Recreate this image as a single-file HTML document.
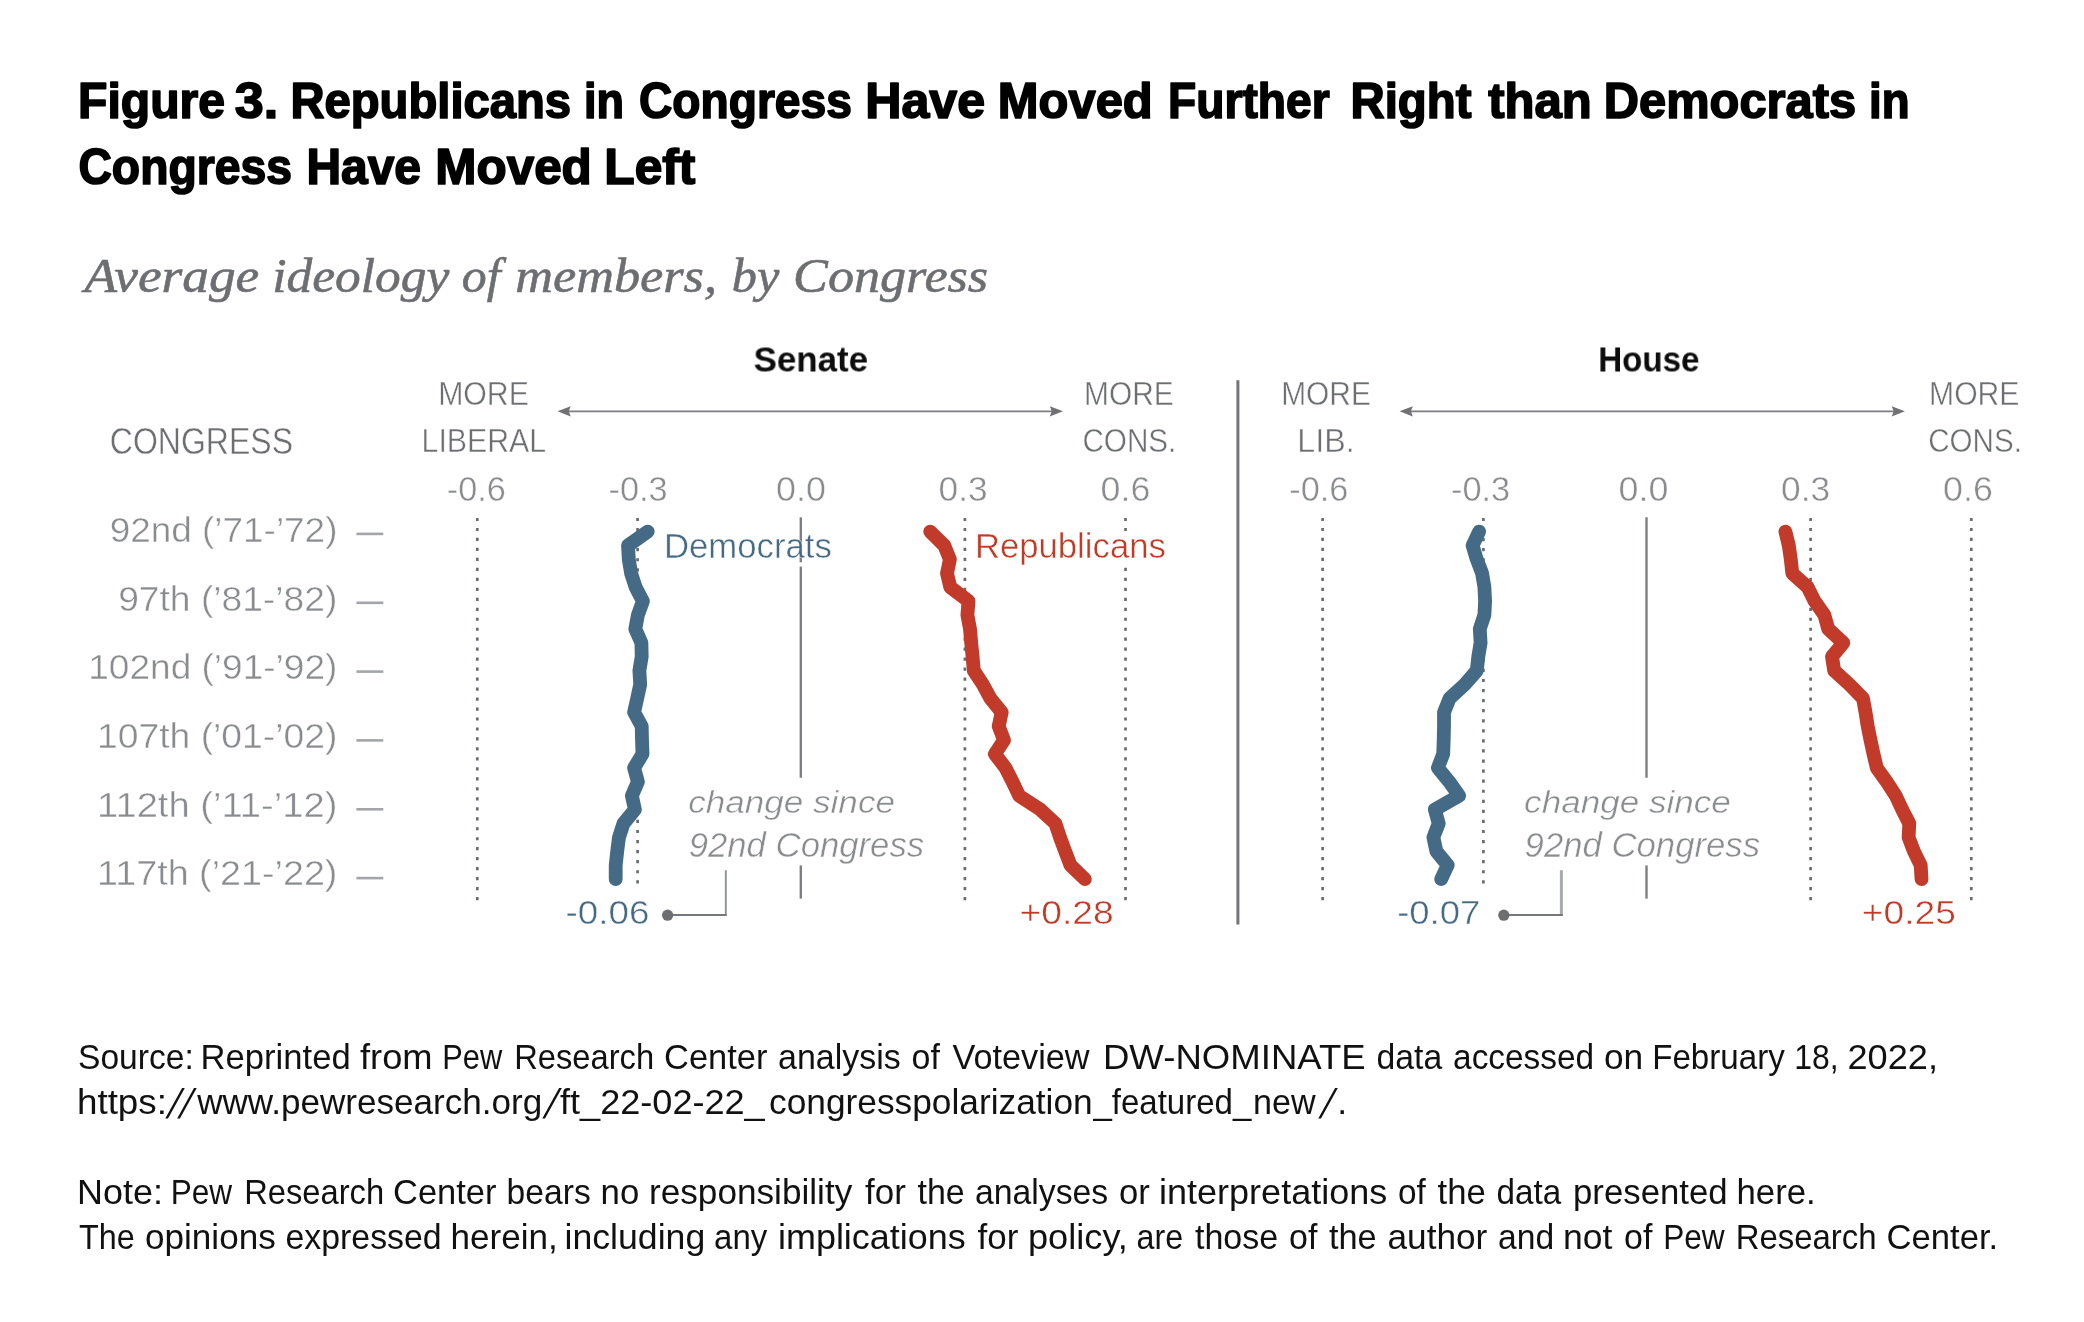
<!DOCTYPE html>
<html lang="en"><head><meta charset="utf-8"><title>Figure 3</title>
<style>html,body{margin:0;padding:0;background:#fff}body{width:2084px;height:1322px;overflow:hidden;font-family:"Liberation Sans",sans-serif}svg{display:block;will-change:transform;transform:translateZ(0)}text{white-space:pre}</style></head><body>
<svg width="2084" height="1322" viewBox="0 0 2084 1322">
<rect width="2084" height="1322" fill="#fff"/>
<defs><filter id="soft" x="0" y="0" width="2084" height="1322" filterUnits="userSpaceOnUse"><feGaussianBlur stdDeviation="0.65"/></filter></defs>
<text transform="translate(78.10 118.25) scale(0.9595 1)" font-family='"Liberation Sans", sans-serif' font-size="50.14" fill="#000" font-weight="bold" stroke="#000" stroke-width="1.7" stroke-linejoin="round">Figure</text>
<text transform="translate(234.74 118.25) scale(1.0412 1)" font-family='"Liberation Sans", sans-serif' font-size="50.14" fill="#000" font-weight="bold" stroke="#000" stroke-width="1.7" stroke-linejoin="round">3.</text>
<text transform="translate(290.46 118.25) scale(0.9413 1)" font-family='"Liberation Sans", sans-serif' font-size="50.14" fill="#000" font-weight="bold" stroke="#000" stroke-width="1.7" stroke-linejoin="round">Republicans</text>
<text transform="translate(584.09 118.25) scale(0.8975 1)" font-family='"Liberation Sans", sans-serif' font-size="50.14" fill="#000" font-weight="bold" stroke="#000" stroke-width="1.7" stroke-linejoin="round">in</text>
<text transform="translate(638.94 118.25) scale(0.9213 1)" font-family='"Liberation Sans", sans-serif' font-size="50.14" fill="#000" font-weight="bold" stroke="#000" stroke-width="1.7" stroke-linejoin="round">Congress</text>
<text transform="translate(865.28 118.25) scale(0.9999 1)" font-family='"Liberation Sans", sans-serif' font-size="50.14" fill="#000" font-weight="bold" stroke="#000" stroke-width="1.7" stroke-linejoin="round">Have</text>
<text transform="translate(997.85 118.25) scale(0.9759 1)" font-family='"Liberation Sans", sans-serif' font-size="50.14" fill="#000" font-weight="bold" stroke="#000" stroke-width="1.7" stroke-linejoin="round">Moved</text>
<text transform="translate(1168.02 118.25) scale(0.9215 1)" font-family='"Liberation Sans", sans-serif' font-size="50.14" fill="#000" font-weight="bold" stroke="#000" stroke-width="1.7" stroke-linejoin="round">Further</text>
<text transform="translate(1350.45 118.25) scale(0.9448 1)" font-family='"Liberation Sans", sans-serif' font-size="50.14" fill="#000" font-weight="bold" stroke="#000" stroke-width="1.7" stroke-linejoin="round">Right</text>
<text transform="translate(1488.28 118.25) scale(0.9782 1)" font-family='"Liberation Sans", sans-serif' font-size="50.14" fill="#000" font-weight="bold" stroke="#000" stroke-width="1.7" stroke-linejoin="round">than</text>
<text transform="translate(1603.86 118.25) scale(0.9733 1)" font-family='"Liberation Sans", sans-serif' font-size="50.14" fill="#000" font-weight="bold" stroke="#000" stroke-width="1.7" stroke-linejoin="round">Democrats</text>
<text transform="translate(1869.05 118.25) scale(0.9103 1)" font-family='"Liberation Sans", sans-serif' font-size="50.14" fill="#000" font-weight="bold" stroke="#000" stroke-width="1.7" stroke-linejoin="round">in</text>
<text transform="translate(78.43 183.95) scale(0.9235 1)" font-family='"Liberation Sans", sans-serif' font-size="50.14" fill="#000" font-weight="bold" stroke="#000" stroke-width="1.7" stroke-linejoin="round">Congress</text>
<text transform="translate(306.41 183.95) scale(0.9567 1)" font-family='"Liberation Sans", sans-serif' font-size="50.14" fill="#000" font-weight="bold" stroke="#000" stroke-width="1.7" stroke-linejoin="round">Have</text>
<text transform="translate(435.32 183.95) scale(0.9857 1)" font-family='"Liberation Sans", sans-serif' font-size="50.14" fill="#000" font-weight="bold" stroke="#000" stroke-width="1.7" stroke-linejoin="round">Moved</text>
<text transform="translate(604.31 183.95) scale(0.9916 1)" font-family='"Liberation Sans", sans-serif' font-size="50.14" fill="#000" font-weight="bold" stroke="#000" stroke-width="1.7" stroke-linejoin="round">Left</text>
<text transform="translate(78.05 1068.70) scale(0.9453 1)" font-family='"Liberation Sans", sans-serif' font-size="35.51" fill="#111">Source:</text>
<text transform="translate(200.55 1068.70) scale(0.9755 1)" font-family='"Liberation Sans", sans-serif' font-size="35.51" fill="#111">Reprinted</text>
<text transform="translate(360.00 1068.70) scale(1.0226 1)" font-family='"Liberation Sans", sans-serif' font-size="35.51" fill="#111">from</text>
<text transform="translate(442.26 1068.70) scale(0.8677 1)" font-family='"Liberation Sans", sans-serif' font-size="35.51" fill="#111">Pew</text>
<text transform="translate(514.16 1068.70) scale(0.9211 1)" font-family='"Liberation Sans", sans-serif' font-size="35.51" fill="#111">Research</text>
<text transform="translate(664.03 1068.70) scale(0.9694 1)" font-family='"Liberation Sans", sans-serif' font-size="35.51" fill="#111">Center</text>
<text transform="translate(778.04 1068.70) scale(0.9565 1)" font-family='"Liberation Sans", sans-serif' font-size="35.51" fill="#111">analysis</text>
<text transform="translate(911.54 1068.70) scale(0.9567 1)" font-family='"Liberation Sans", sans-serif' font-size="35.51" fill="#111">of</text>
<text transform="translate(952.50 1068.70) scale(0.9653 1)" font-family='"Liberation Sans", sans-serif' font-size="35.51" fill="#111">Voteview</text>
<text transform="translate(1102.94 1068.70) scale(1.0302 1)" font-family='"Liberation Sans", sans-serif' font-size="35.51" fill="#111">DW-NOMINATE</text>
<text transform="translate(1376.55 1068.70) scale(0.9510 1)" font-family='"Liberation Sans", sans-serif' font-size="35.51" fill="#111">data</text>
<text transform="translate(1453.06 1068.70) scale(0.9407 1)" font-family='"Liberation Sans", sans-serif' font-size="35.51" fill="#111">accessed</text>
<text transform="translate(1604.01 1068.70) scale(0.9934 1)" font-family='"Liberation Sans", sans-serif' font-size="35.51" fill="#111">on</text>
<text transform="translate(1652.13 1068.70) scale(0.9337 1)" font-family='"Liberation Sans", sans-serif' font-size="35.51" fill="#111">February</text>
<text transform="translate(1794.20 1068.70) scale(0.8991 1)" font-family='"Liberation Sans", sans-serif' font-size="35.51" fill="#111">18,</text>
<text transform="translate(1847.48 1068.70) scale(1.0180 1)" font-family='"Liberation Sans", sans-serif' font-size="35.51" fill="#111">2022,</text>
<text transform="translate(76.93 1113.90) scale(1.0371 1)" font-family='"Liberation Sans", sans-serif' font-size="35.51" fill="#111">https:</text>
<text transform="translate(197.19 1113.90) scale(0.9880 1)" font-family='"Liberation Sans", sans-serif' font-size="35.51" fill="#111">www.pewresearch.org</text>
<text transform="translate(560.00 1113.90) scale(1.0169 1)" font-family='"Liberation Sans", sans-serif' font-size="35.51" fill="#111">ft_22-02-22_</text>
<text transform="translate(769.01 1113.90) scale(0.9942 1)" font-family='"Liberation Sans", sans-serif' font-size="35.51" fill="#111">congresspolarization</text>
<text transform="translate(1093.43 1113.90) scale(0.9302 1)" font-family='"Liberation Sans", sans-serif' font-size="35.51" fill="#111">_featured_</text>
<text transform="translate(1253.08 1113.90) scale(0.9608 1)" font-family='"Liberation Sans", sans-serif' font-size="35.51" fill="#111">new</text>
<text transform="translate(1337.30 1113.90) scale(1.0000 1)" font-family='"Liberation Sans", sans-serif' font-size="35.51" fill="#111">.</text>
<text transform="translate(76.97 1204.10) scale(1.0127 1)" font-family='"Liberation Sans", sans-serif' font-size="35.51" fill="#111">Note:</text>
<text transform="translate(170.72 1204.10) scale(0.8899 1)" font-family='"Liberation Sans", sans-serif' font-size="35.51" fill="#111">Pew</text>
<text transform="translate(244.16 1204.10) scale(0.9211 1)" font-family='"Liberation Sans", sans-serif' font-size="35.51" fill="#111">Research</text>
<text transform="translate(393.03 1204.10) scale(0.9694 1)" font-family='"Liberation Sans", sans-serif' font-size="35.51" fill="#111">Center</text>
<text transform="translate(506.61 1204.10) scale(0.9471 1)" font-family='"Liberation Sans", sans-serif' font-size="35.51" fill="#111">bears</text>
<text transform="translate(600.54 1204.10) scale(0.9798 1)" font-family='"Liberation Sans", sans-serif' font-size="35.51" fill="#111">no</text>
<text transform="translate(649.02 1204.10) scale(0.9904 1)" font-family='"Liberation Sans", sans-serif' font-size="35.51" fill="#111">responsibility</text>
<text transform="translate(865.00 1204.10) scale(0.9854 1)" font-family='"Liberation Sans", sans-serif' font-size="35.51" fill="#111">for</text>
<text transform="translate(917.50 1204.10) scale(0.9567 1)" font-family='"Liberation Sans", sans-serif' font-size="35.51" fill="#111">the</text>
<text transform="translate(975.05 1204.10) scale(0.9504 1)" font-family='"Liberation Sans", sans-serif' font-size="35.51" fill="#111">analyses</text>
<text transform="translate(1119.02 1204.10) scale(0.9758 1)" font-family='"Liberation Sans", sans-serif' font-size="35.51" fill="#111">or</text>
<text transform="translate(1158.97 1204.10) scale(1.0148 1)" font-family='"Liberation Sans", sans-serif' font-size="35.51" fill="#111">interpretations</text>
<text transform="translate(1398.06 1204.10) scale(0.9393 1)" font-family='"Liberation Sans", sans-serif' font-size="35.51" fill="#111">of</text>
<text transform="translate(1437.50 1204.10) scale(0.9772 1)" font-family='"Liberation Sans", sans-serif' font-size="35.51" fill="#111">the</text>
<text transform="translate(1496.56 1204.10) scale(0.9364 1)" font-family='"Liberation Sans", sans-serif' font-size="35.51" fill="#111">data</text>
<text transform="translate(1573.04 1204.10) scale(0.9796 1)" font-family='"Liberation Sans", sans-serif' font-size="35.51" fill="#111">presented</text>
<text transform="translate(1736.54 1204.10) scale(0.9796 1)" font-family='"Liberation Sans", sans-serif' font-size="35.51" fill="#111">here.</text>
<text transform="translate(79.00 1249.20) scale(0.9102 1)" font-family='"Liberation Sans", sans-serif' font-size="35.51" fill="#111">The</text>
<text transform="translate(145.01 1249.20) scale(0.9886 1)" font-family='"Liberation Sans", sans-serif' font-size="35.51" fill="#111">opinions</text>
<text transform="translate(285.55 1249.20) scale(0.9531 1)" font-family='"Liberation Sans", sans-serif' font-size="35.51" fill="#111">expressed</text>
<text transform="translate(450.52 1249.20) scale(0.9886 1)" font-family='"Liberation Sans", sans-serif' font-size="35.51" fill="#111">herein,</text>
<text transform="translate(564.49 1249.20) scale(1.0045 1)" font-family='"Liberation Sans", sans-serif' font-size="35.51" fill="#111">including</text>
<text transform="translate(714.07 1249.20) scale(0.9294 1)" font-family='"Liberation Sans", sans-serif' font-size="35.51" fill="#111">any</text>
<text transform="translate(777.97 1249.20) scale(1.0126 1)" font-family='"Liberation Sans", sans-serif' font-size="35.51" fill="#111">implications</text>
<text transform="translate(977.50 1249.20) scale(0.9854 1)" font-family='"Liberation Sans", sans-serif' font-size="35.51" fill="#111">for</text>
<text transform="translate(1027.96 1249.20) scale(1.0201 1)" font-family='"Liberation Sans", sans-serif' font-size="35.51" fill="#111">policy,</text>
<text transform="translate(1136.59 1249.20) scale(0.9079 1)" font-family='"Liberation Sans", sans-serif' font-size="35.51" fill="#111">are</text>
<text transform="translate(1195.00 1249.20) scale(0.9582 1)" font-family='"Liberation Sans", sans-serif' font-size="35.51" fill="#111">those</text>
<text transform="translate(1289.04 1249.20) scale(0.9567 1)" font-family='"Liberation Sans", sans-serif' font-size="35.51" fill="#111">of</text>
<text transform="translate(1329.00 1249.20) scale(0.9669 1)" font-family='"Liberation Sans", sans-serif' font-size="35.51" fill="#111">the</text>
<text transform="translate(1387.51 1249.20) scale(0.9916 1)" font-family='"Liberation Sans", sans-serif' font-size="35.51" fill="#111">author</text>
<text transform="translate(1498.05 1249.20) scale(0.9471 1)" font-family='"Liberation Sans", sans-serif' font-size="35.51" fill="#111">and</text>
<text transform="translate(1563.00 1249.20) scale(1.0003 1)" font-family='"Liberation Sans", sans-serif' font-size="35.51" fill="#111">not</text>
<text transform="translate(1624.04 1249.20) scale(0.9567 1)" font-family='"Liberation Sans", sans-serif' font-size="35.51" fill="#111">of</text>
<text transform="translate(1663.22 1249.20) scale(0.8899 1)" font-family='"Liberation Sans", sans-serif' font-size="35.51" fill="#111">Pew</text>
<text transform="translate(1735.64 1249.20) scale(0.9279 1)" font-family='"Liberation Sans", sans-serif' font-size="35.51" fill="#111">Research</text>
<text transform="translate(1886.52 1249.20) scale(0.9756 1)" font-family='"Liberation Sans", sans-serif' font-size="35.51" fill="#111">Center.</text>
<path d="M165.3 1118.6 h2.7 L184.8 1088.0 h-2.7 Z" fill="#111"/>
<path d="M177.2 1118.6 h2.7 L196.7 1088.0 h-2.7 Z" fill="#111"/>
<path d="M542.3 1118.6 h2.7 L561.8 1088.0 h-2.7 Z" fill="#111"/>
<path d="M1318.3 1118.6 h2.7 L1337.8 1088.0 h-2.7 Z" fill="#111"/>
<g filter="url(#soft)">
<line x1="477.3" y1="517.9" x2="477.3" y2="901" stroke="#696c71" stroke-width="2.7" stroke-dasharray="3.2 6.776"/>
<line x1="964.9" y1="517.9" x2="964.9" y2="901" stroke="#696c71" stroke-width="2.7" stroke-dasharray="3.2 6.776"/>
<line x1="1125.5" y1="517.9" x2="1125.5" y2="901" stroke="#696c71" stroke-width="2.7" stroke-dasharray="3.2 6.776"/>
<line x1="1322.6" y1="517.9" x2="1322.6" y2="901" stroke="#696c71" stroke-width="2.7" stroke-dasharray="3.2 6.776"/>
<line x1="1810.6" y1="517.9" x2="1810.6" y2="901" stroke="#696c71" stroke-width="2.7" stroke-dasharray="3.2 6.776"/>
<line x1="1971.3" y1="517.9" x2="1971.3" y2="901" stroke="#696c71" stroke-width="2.7" stroke-dasharray="3.2 6.776"/>
<line x1="637.6" y1="517.9" x2="637.6" y2="884.5" stroke="#696c71" stroke-width="2.7" stroke-dasharray="3.2 6.864"/>
<line x1="1483.4" y1="517.9" x2="1483.4" y2="884.5" stroke="#696c71" stroke-width="2.7" stroke-dasharray="3.2 6.864"/>
<line x1="800.8" y1="517.3" x2="800.8" y2="562.2" stroke="#7d7f83" stroke-width="2.4"/>
<line x1="800.8" y1="566.6" x2="800.8" y2="777.7" stroke="#7d7f83" stroke-width="2.4"/>
<line x1="800.8" y1="865.4" x2="800.8" y2="898.6" stroke="#7d7f83" stroke-width="2.4"/>
<line x1="1646.5" y1="517.3" x2="1646.5" y2="777.7" stroke="#7d7f83" stroke-width="2.4"/>
<line x1="1646.5" y1="865.4" x2="1646.5" y2="898.6" stroke="#7d7f83" stroke-width="2.4"/>
<line x1="1237.9" y1="380.3" x2="1237.9" y2="924.5" stroke="#737478" stroke-width="3"/>
<line x1="566.5" y1="411.45" x2="1054.0" y2="411.45" stroke="#7c7e82" stroke-width="1.7"/>
<path d="M557.5 411.3 L570.7 406.2 L568.7 411.3 L570.7 416.40000000000003 Z" fill="#6f7075"/>
<path d="M1063.0 411.3 L1049.8 406.2 L1051.8 411.3 L1049.8 416.40000000000003 Z" fill="#6f7075"/>
<line x1="1408.6" y1="411.45" x2="1895.9" y2="411.45" stroke="#7c7e82" stroke-width="1.7"/>
<path d="M1399.6 411.3 L1412.8 406.2 L1410.8 411.3 L1412.8 416.40000000000003 Z" fill="#6f7075"/>
<path d="M1904.9 411.3 L1891.7 406.2 L1893.7 411.3 L1891.7 416.40000000000003 Z" fill="#6f7075"/>
<line x1="356.4" y1="533.9" x2="383.3" y2="533.9" stroke="#a3a5a8" stroke-width="2.6"/>
<line x1="356.4" y1="602.8" x2="383.3" y2="602.8" stroke="#a3a5a8" stroke-width="2.6"/>
<line x1="356.4" y1="671.6" x2="383.3" y2="671.6" stroke="#a3a5a8" stroke-width="2.6"/>
<line x1="356.4" y1="740.4" x2="383.3" y2="740.4" stroke="#a3a5a8" stroke-width="2.6"/>
<line x1="356.4" y1="809.3" x2="383.3" y2="809.3" stroke="#a3a5a8" stroke-width="2.6"/>
<line x1="356.4" y1="878.1" x2="383.3" y2="878.1" stroke="#a3a5a8" stroke-width="2.6"/>
<text transform="translate(84.58 292.40) scale(1.1002 1)" font-family='"Liberation Serif", serif' font-size="48.48" fill="#6d6e72" font-style="italic" stroke="#6d6e72" stroke-width="0.6" stroke-linejoin="round">Average</text>
<text transform="translate(272.15 292.40) scale(1.0609 1)" font-family='"Liberation Serif", serif' font-size="48.48" fill="#6d6e72" font-style="italic" stroke="#6d6e72" stroke-width="0.6" stroke-linejoin="round">ideology</text>
<text transform="translate(461.75 292.40) scale(1.0281 1)" font-family='"Liberation Serif", serif' font-size="48.48" fill="#6d6e72" font-style="italic" stroke="#6d6e72" stroke-width="0.6" stroke-linejoin="round">of</text>
<text transform="translate(515.20 292.40) scale(1.0786 1)" font-family='"Liberation Serif", serif' font-size="48.48" fill="#6d6e72" font-style="italic" stroke="#6d6e72" stroke-width="0.6" stroke-linejoin="round">members,</text>
<text transform="translate(731.74 292.40) scale(1.0379 1)" font-family='"Liberation Serif", serif' font-size="48.48" fill="#6d6e72" font-style="italic" stroke="#6d6e72" stroke-width="0.6" stroke-linejoin="round">by</text>
<text transform="translate(793.12 292.40) scale(1.0755 1)" font-family='"Liberation Serif", serif' font-size="48.48" fill="#6d6e72" font-style="italic" stroke="#6d6e72" stroke-width="0.6" stroke-linejoin="round">Congress</text>
<text transform="translate(109.81 453.80) scale(0.8869 1)" font-family='"Liberation Sans", sans-serif' font-size="36.09" fill="#6d6e71" stroke="#fff" stroke-width="0.45">CONGRESS</text>
<text transform="translate(438.13 405.40) scale(0.9359 1)" font-family='"Liberation Sans", sans-serif' font-size="32.32" fill="#6d6e71" stroke="#fff" stroke-width="0.45">MORE</text>
<text transform="translate(421.52 452.00) scale(0.9378 1)" font-family='"Liberation Sans", sans-serif' font-size="32.32" fill="#6d6e71" stroke="#fff" stroke-width="0.45">LIBERAL</text>
<text transform="translate(1083.95 405.40) scale(0.9263 1)" font-family='"Liberation Sans", sans-serif' font-size="32.32" fill="#6d6e71" stroke="#fff" stroke-width="0.45">MORE</text>
<text transform="translate(1082.38 452.00) scale(0.9183 1)" font-family='"Liberation Sans", sans-serif' font-size="32.32" fill="#6d6e71" stroke="#fff" stroke-width="0.45">CONS.</text>
<text transform="translate(1281.15 405.40) scale(0.9253 1)" font-family='"Liberation Sans", sans-serif' font-size="32.32" fill="#6d6e71" stroke="#fff" stroke-width="0.45">MORE</text>
<text transform="translate(1297.31 452.00) scale(0.9967 1)" font-family='"Liberation Sans", sans-serif' font-size="32.32" fill="#6d6e71" stroke="#fff" stroke-width="0.45">LIB.</text>
<text transform="translate(1929.03 405.40) scale(0.9327 1)" font-family='"Liberation Sans", sans-serif' font-size="32.32" fill="#6d6e71" stroke="#fff" stroke-width="0.45">MORE</text>
<text transform="translate(1928.18 452.00) scale(0.9163 1)" font-family='"Liberation Sans", sans-serif' font-size="32.32" fill="#6d6e71" stroke="#fff" stroke-width="0.45">CONS.</text>
<text transform="translate(753.61 371.50) scale(0.9925 1)" font-family='"Liberation Sans", sans-serif' font-size="35.14" fill="#0a0a0a" font-weight="bold">Senate</text>
<text transform="translate(1598.31 371.50) scale(0.9426 1)" font-family='"Liberation Sans", sans-serif' font-size="35.14" fill="#0a0a0a" font-weight="bold">House</text>
<text transform="translate(446.73 501.20) scale(0.9677 1)" font-family='"Liberation Sans", sans-serif' font-size="35.43" fill="#898b8e" stroke="#fff" stroke-width="0.45">-0.6</text>
<text transform="translate(608.53 501.20) scale(0.9693 1)" font-family='"Liberation Sans", sans-serif' font-size="35.43" fill="#898b8e" stroke="#fff" stroke-width="0.45">-0.3</text>
<text transform="translate(776.09 501.20) scale(1.0120 1)" font-family='"Liberation Sans", sans-serif' font-size="35.43" fill="#898b8e" stroke="#fff" stroke-width="0.45">0.0</text>
<text transform="translate(938.60 501.20) scale(0.9952 1)" font-family='"Liberation Sans", sans-serif' font-size="35.43" fill="#898b8e" stroke="#fff" stroke-width="0.45">0.3</text>
<text transform="translate(1100.59 501.20) scale(1.0099 1)" font-family='"Liberation Sans", sans-serif' font-size="35.43" fill="#898b8e" stroke="#fff" stroke-width="0.45">0.6</text>
<text transform="translate(1289.23 501.20) scale(0.9677 1)" font-family='"Liberation Sans", sans-serif' font-size="35.43" fill="#898b8e" stroke="#fff" stroke-width="0.45">-0.6</text>
<text transform="translate(1451.03 501.20) scale(0.9693 1)" font-family='"Liberation Sans", sans-serif' font-size="35.43" fill="#898b8e" stroke="#fff" stroke-width="0.45">-0.3</text>
<text transform="translate(1618.59 501.20) scale(1.0120 1)" font-family='"Liberation Sans", sans-serif' font-size="35.43" fill="#898b8e" stroke="#fff" stroke-width="0.45">0.0</text>
<text transform="translate(1781.10 501.20) scale(0.9952 1)" font-family='"Liberation Sans", sans-serif' font-size="35.43" fill="#898b8e" stroke="#fff" stroke-width="0.45">0.3</text>
<text transform="translate(1943.09 501.20) scale(1.0099 1)" font-family='"Liberation Sans", sans-serif' font-size="35.43" fill="#898b8e" stroke="#fff" stroke-width="0.45">0.6</text>
<text transform="translate(109.65 542.20) scale(1.0548 1)" font-family='"Liberation Sans", sans-serif' font-size="35.00" fill="#898b8e" stroke="#fff" stroke-width="0.45">92nd (’71-’72)</text>
<text transform="translate(118.14 610.80) scale(1.0635 1)" font-family='"Liberation Sans", sans-serif' font-size="35.00" fill="#898b8e" stroke="#fff" stroke-width="0.45">97th (’81-’82)</text>
<text transform="translate(88.28 679.40) scale(1.0584 1)" font-family='"Liberation Sans", sans-serif' font-size="35.00" fill="#898b8e" stroke="#fff" stroke-width="0.45">102nd (’91-’92)</text>
<text transform="translate(97.07 748.00) scale(1.0652 1)" font-family='"Liberation Sans", sans-serif' font-size="35.00" fill="#898b8e" stroke="#fff" stroke-width="0.45">107th (’01-’02)</text>
<text transform="translate(97.02 816.60) scale(1.0907 1)" font-family='"Liberation Sans", sans-serif' font-size="35.00" fill="#898b8e" stroke="#fff" stroke-width="0.45">112th (’11-’12)</text>
<text transform="translate(97.04 885.20) scale(1.0778 1)" font-family='"Liberation Sans", sans-serif' font-size="35.00" fill="#898b8e" stroke="#fff" stroke-width="0.45">117th (’21-’22)</text>
<text transform="translate(663.89 557.50) scale(1.0031 1)" font-family='"Liberation Sans", sans-serif' font-size="34.64" fill="#456a83" stroke="#fff" stroke-width="0.45">Democrats</text>
<text transform="translate(974.90 557.50) scale(1.0019 1)" font-family='"Liberation Sans", sans-serif' font-size="34.64" fill="#fff" stroke="#fff" stroke-width="6.99" stroke-linejoin="round">Republicans</text>
<text transform="translate(974.90 557.50) scale(1.0019 1)" font-family='"Liberation Sans", sans-serif' font-size="34.64" fill="#bf3b27" stroke="#fff" stroke-width="0.45">Republicans</text>
<text transform="translate(688.20 812.60) scale(1.0950 1)" font-family='"Liberation Sans", sans-serif' font-size="32.05" fill="#898b8e" font-style="italic" stroke="#fff" stroke-width="0.45">change since</text>
<text transform="translate(688.69 857.30) scale(1.0127 1)" font-family='"Liberation Sans", sans-serif' font-size="34.29" fill="#898b8e" font-style="italic" stroke="#fff" stroke-width="0.45">92nd Congress</text>
<text transform="translate(1524.10 812.60) scale(1.0950 1)" font-family='"Liberation Sans", sans-serif' font-size="32.05" fill="#898b8e" font-style="italic" stroke="#fff" stroke-width="0.45">change since</text>
<text transform="translate(1524.59 857.30) scale(1.0127 1)" font-family='"Liberation Sans", sans-serif' font-size="34.29" fill="#898b8e" font-style="italic" stroke="#fff" stroke-width="0.45">92nd Congress</text>
<text transform="translate(565.42 923.90) scale(1.0835 1)" font-family='"Liberation Sans", sans-serif' font-size="34.00" fill="#456a83" stroke="#fff" stroke-width="0.45">-0.06</text>
<text transform="translate(1019.51 923.90) scale(1.0949 1)" font-family='"Liberation Sans", sans-serif' font-size="34.00" fill="#bf3b27" stroke="#fff" stroke-width="0.45">+0.28</text>
<text transform="translate(1397.13 923.90) scale(1.0743 1)" font-family='"Liberation Sans", sans-serif' font-size="34.00" fill="#456a83" stroke="#fff" stroke-width="0.45">-0.07</text>
<text transform="translate(1861.81 923.90) scale(1.0949 1)" font-family='"Liberation Sans", sans-serif' font-size="34.00" fill="#bf3b27" stroke="#fff" stroke-width="0.45">+0.25</text>
<path d="M725.8 870.2 V914.9" fill="none" stroke="#8f9194" stroke-width="1.9"/>
<path d="M667.6 914.9 H726.75" fill="none" stroke="#77787c" stroke-width="2"/>
<circle cx="667.6" cy="915.2" r="5.6" fill="#6d6e71"/>
<path d="M1561.4 870.2 V914.9" fill="none" stroke="#a9abae" stroke-width="3.0"/>
<path d="M1503.8 914.9 H1562.9" fill="none" stroke="#77787c" stroke-width="2"/>
<circle cx="1503.8" cy="915.2" r="5.6" fill="#6d6e71"/>
<polyline points="647.7,531.6 628.0,545.5 628.8,559.4 631.1,573.3 635.6,587.2 642.9,601.1 637.9,615.0 635.3,628.9 641.4,642.8 641.7,656.7 639.4,670.6 640.2,684.5 637.2,698.4 634.1,712.3 641.7,726.2 642.0,740.1 642.5,754.0 634.1,767.9 637.9,781.8 631.9,795.7 634.9,809.6 623.5,823.5 619.0,837.4 617.2,851.3 615.7,865.2 615.7,879.1" fill="none" stroke="#446b85" stroke-width="13.8" stroke-linecap="round" stroke-linejoin="round"/>
<polyline points="930.2,531.6 944.3,545.5 949.9,559.4 947.0,573.3 950.3,587.2 968.5,601.1 967.4,615.0 970.0,628.9 971.2,642.8 972.6,656.7 973.8,670.6 982.9,684.5 990.4,698.4 1001.7,712.3 998.7,726.2 1004.0,740.1 994.9,754.0 1005.5,767.9 1012.6,781.8 1019.1,795.7 1040.3,809.6 1055.4,823.5 1060.0,837.4 1065.2,851.3 1070.5,865.2 1084.9,879.1" fill="none" stroke="#c23b29" stroke-width="13.8" stroke-linecap="round" stroke-linejoin="round"/>
<polyline points="1479.1,531.6 1472.6,545.5 1476.8,559.4 1482.1,573.3 1484.4,587.2 1485.1,601.1 1484.4,615.0 1479.8,628.9 1480.6,642.8 1478.3,656.7 1476.8,670.6 1464.7,684.5 1449.6,698.4 1444.0,712.3 1444.0,726.2 1443.7,740.1 1443.2,754.0 1437.9,767.9 1449.3,781.8 1459.1,795.7 1434.9,809.6 1438.7,823.5 1433.4,837.4 1436.4,851.3 1447.7,865.2 1441.2,879.1" fill="none" stroke="#446b85" stroke-width="13.8" stroke-linecap="round" stroke-linejoin="round"/>
<polyline points="1785.4,531.6 1788.8,545.5 1790.8,559.4 1792.3,573.3 1807.7,587.2 1814.6,601.1 1824.4,615.0 1828.2,628.9 1843.3,642.8 1832.0,656.7 1834.2,670.6 1849.4,684.5 1863.0,698.4 1865.5,712.3 1867.7,726.2 1870.5,740.1 1873.5,754.0 1876.8,767.9 1886.7,781.8 1895.7,795.7 1902.2,809.6 1909.3,823.5 1908.6,837.4 1913.9,851.3 1920.7,865.2 1921.5,879.1" fill="none" stroke="#c23b29" stroke-width="13.8" stroke-linecap="round" stroke-linejoin="round"/>
</g>
</svg></body></html>
